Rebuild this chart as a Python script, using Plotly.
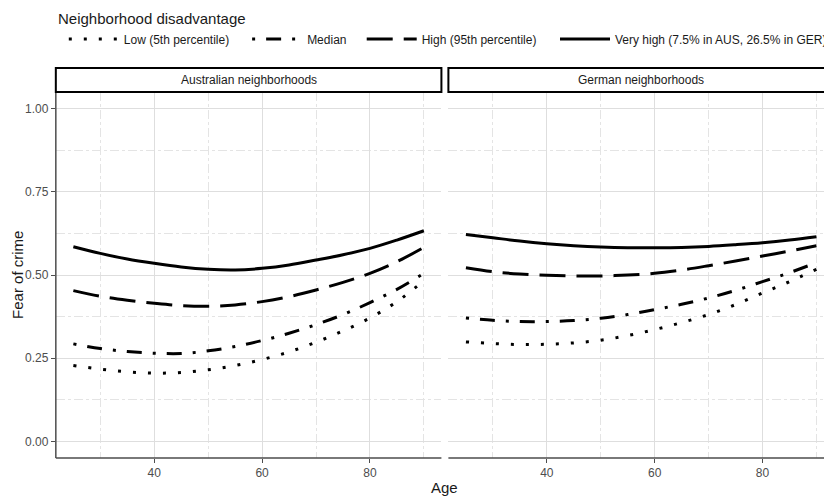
import plotly.graph_objects as go

ages = [25, 30, 35, 40, 45, 50, 55, 60, 65, 70, 75, 80, 85, 90]
levels = ["Low (5th percentile)", "Median", "High (95th percentile)",
          "Very high (7.5% in AUS, 26.5% in GER)"]
panels = ["Australian neighborhoods", "German neighborhoods"]
legend_title = "Neighborhood disadvantage"

aus_low = [0.228, 0.217, 0.209, 0.205, 0.207, 0.215, 0.228, 0.246, 0.269, 0.298, 0.332, 0.371, 0.420, 0.483]
aus_median = [0.293, 0.279, 0.270, 0.265, 0.264, 0.272, 0.285, 0.303, 0.325, 0.351, 0.381, 0.417, 0.457, 0.505]
aus_high = [0.453, 0.436, 0.424, 0.415, 0.408, 0.406, 0.410, 0.420, 0.435, 0.455, 0.478, 0.505, 0.540, 0.583]
aus_vhigh = [0.585, 0.565, 0.548, 0.535, 0.524, 0.517, 0.515, 0.520, 0.530, 0.545, 0.561, 0.580, 0.605, 0.633]

ger_low = [0.299, 0.294, 0.291, 0.292, 0.296, 0.304, 0.318, 0.336, 0.357, 0.381, 0.411, 0.446, 0.480, 0.517]
ger_median = [0.371, 0.364, 0.360, 0.360, 0.363, 0.370, 0.381, 0.396, 0.412, 0.431, 0.454, 0.480, 0.507, 0.537]
ger_high = [0.522, 0.510, 0.503, 0.499, 0.497, 0.497, 0.500, 0.505, 0.515, 0.528, 0.542, 0.557, 0.572, 0.588]
ger_vhigh = [0.622, 0.612, 0.602, 0.594, 0.588, 0.584, 0.582, 0.582, 0.583, 0.586, 0.591, 0.597, 0.605, 0.615]

y_ticks = [0, 0.25, 0.5, 0.75, 1.0]
y_ticklabels = ["0.00", "0.25", "0.50", "0.75", "1.00"]
x_ticks = [40, 60, 80]

# page body has an 8px margin; the figure is drawn from (8, 8)
OFF = 8
W, H = 832 - OFF, 496 - OFF
FONT = "Liberation Sans, Arial, sans-serif"
dashes = ["3px,12px", "3px,11px,15px,11px", "26px,11px", "solid"]
legend_names = ["legend", "legend2", "legend3", "legend4"]
legend_text_px = [124, 308, 423, 617]   # screen x where each legend label starts
ITEMW = 50


def fx(px):
    return (px - OFF) / W


def fy(py):
    return 1 - (py - OFF) / H


data_by_panel = [
    [aus_low, aus_median, aus_high, aus_vhigh],
    [ger_low, ger_median, ger_high, ger_vhigh],
]

fig = go.Figure()
for p, series in enumerate(data_by_panel):
    for i, vals in enumerate(series):
        fig.add_trace(go.Scatter(
            x=ages, y=vals, mode="lines", name=levels[i],
            legendgroup=levels[i], showlegend=(p == 0), legend=legend_names[i],
            line=dict(color="black", width=3, dash=dashes[i], shape="spline", smoothing=1.0),
            xaxis="x" if p == 0 else "x2", yaxis="y" if p == 0 else "y2",
            hoverinfo="skip",
        ))

px_l0, px_l1 = 56, 443
px_r0, px_r1 = 450, 832
top_px, bot_px = 92, 458
xr0, xr1 = 21.75, 93.25
scale = (px_l1 - px_l0) / (xr1 - xr0)
xr1_right = xr0 + (px_r1 - px_r0) / scale

ydom = [fy(bot_px), fy(top_px)]

GRID = "#dedede"
MINOR = "#e4e4e4"
TICKFONT = dict(family=FONT, size=12, color="#4d4d4d")


def xaxis_def(dom, rng, anchor):
    return dict(domain=dom, range=rng, tickmode="array", tickvals=x_ticks,
                showgrid=True, gridcolor=GRID, gridwidth=1, zeroline=False,
                ticks="outside", ticklen=4, tickcolor="#4d4d4d", tickwidth=1,
                tickfont=TICKFONT, showline=False,
                minor=dict(showgrid=True, gridcolor=MINOR, gridwidth=1, griddash="dashdot",
                           tick0=0, dtick=10),
                anchor=anchor)


def legend_def(text_px):
    return dict(
        orientation="h", x=fx(text_px - ITEMW - 10), xanchor="left",
        y=fy(39), yanchor="middle",
        font=dict(family=FONT, size=12, color="#1a1a1a"),
        bgcolor="rgba(0,0,0,0)", borderwidth=0, itemwidth=ITEMW,
    )


fig.update_layout(
    width=W, height=H,
    margin=dict(l=0, r=0, t=0, b=0),
    paper_bgcolor="white", plot_bgcolor="white",
    font=dict(family=FONT, color="#1a1a1a"),
    xaxis=xaxis_def([fx(px_l0), fx(px_l1)], [xr0, xr1], "y"),
    xaxis2=xaxis_def([fx(px_r0), 1.0], [xr0, xr1_right], "y2"),
    yaxis=dict(domain=ydom, range=[-0.05, 1.05], tickmode="array", tickvals=y_ticks,
               ticktext=y_ticklabels, showgrid=True, gridcolor=GRID, gridwidth=1,
               zeroline=False, ticks="outside", ticklen=4, tickcolor="#4d4d4d", tickwidth=1,
               tickfont=TICKFONT, showline=False,
               minor=dict(showgrid=True, gridcolor=MINOR, gridwidth=1, griddash="dashdot",
                          tick0=0, dtick=0.125),
               anchor="x"),
    yaxis2=dict(domain=ydom, range=[-0.05, 1.05], tickmode="array", tickvals=y_ticks,
                showticklabels=False, showgrid=True, gridcolor=GRID, gridwidth=1,
                zeroline=False, ticks="",
                minor=dict(showgrid=True, gridcolor=MINOR, gridwidth=1, griddash="dashdot",
                           tick0=0, dtick=0.125),
                anchor="x2"),
    showlegend=True,
)
fig.update_layout({name: legend_def(tp) for name, tp in zip(legend_names, legend_text_px)})

shapes = []
# axis lines
shapes.append(dict(type="line", xref="paper", yref="paper", x0=fx(px_l0), x1=fx(px_l0),
                   y0=ydom[0], y1=ydom[1], line=dict(color="#4d4d4d", width=1.5)))
shapes.append(dict(type="line", xref="paper", yref="paper", x0=fx(px_l0), x1=fx(px_l1),
                   y0=ydom[0], y1=ydom[0], line=dict(color="#4d4d4d", width=1.5)))
shapes.append(dict(type="line", xref="paper", yref="paper", x0=fx(px_r0), x1=1.0,
                   y0=ydom[0], y1=ydom[0], line=dict(color="#4d4d4d", width=1.5)))
# strips
for (a, b) in [(px_l0, px_l1), (px_r0, px_r1 + 20)]:
    shapes.append(dict(type="rect", xref="paper", yref="paper", x0=fx(a), x1=fx(b),
                       y0=fy(92), y1=fy(68), fillcolor="white",
                       line=dict(color="black", width=2)))
fig.update_layout(shapes=shapes)

annotations = []
for name, (a, b) in zip(panels, [(px_l0, px_l1), (px_r0, px_r1 + 5)]):
    annotations.append(dict(text=name, xref="paper", yref="paper", x=fx((a + b) / 2),
                            y=fy(80), showarrow=False, xanchor="center", yanchor="middle",
                            font=dict(family=FONT, size=12, color="#1a1a1a")))
annotations.append(dict(text=legend_title, xref="paper", yref="paper", x=fx(56),
                        y=1.0, showarrow=False, xanchor="left", yanchor="top",
                        font=dict(family=FONT, size=15, color="#1a1a1a")))
annotations.append(dict(text="Fear of crime", xref="paper", yref="paper", x=fx(17),
                        y=fy(275), textangle=-90, showarrow=False, xanchor="center",
                        yanchor="middle", font=dict(family=FONT, size=15, color="#1a1a1a")))
annotations.append(dict(text="Age", xref="paper", yref="paper", x=fx(446), y=fy(487),
                        showarrow=False, xanchor="center", yanchor="middle",
                        font=dict(family=FONT, size=15, color="#1a1a1a")))
fig.update_layout(annotations=annotations)

fig.write_html("out.html")
